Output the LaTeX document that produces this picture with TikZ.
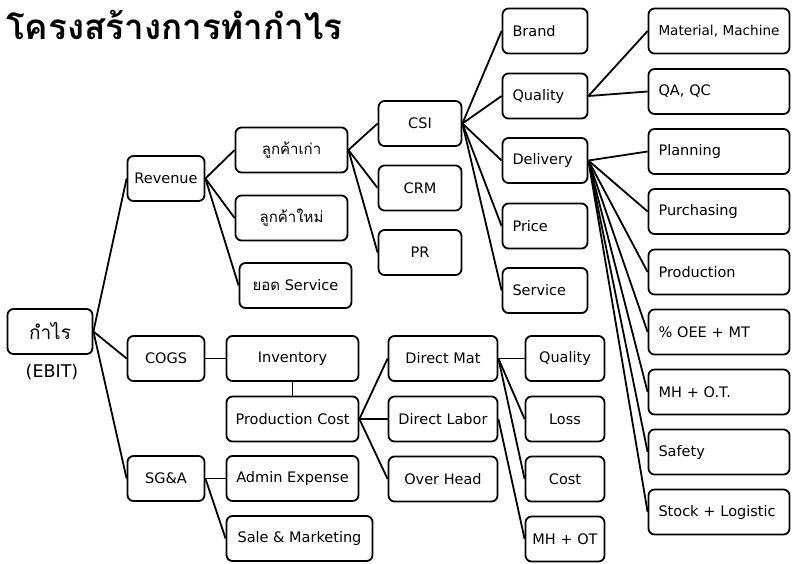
\documentclass[tikz,border=0pt]{standalone}
\usepackage{fontspec}
\setmainfont{DejaVu Sans}
\newfontfamily\thai[Script=Thai]{Loma}
\begin{document}
\begin{tikzpicture}[x=1pt,y=-1pt,
  box/.style={draw=black, line width=1.8pt, rounded corners=6pt, minimum height=45pt, inner sep=0pt, font=\fontsize{14.5}{16}\selectfont},
  lbox/.style={box, align=left, text width=#1},
  thaitext/.style={font=\thai\fontsize{15}{17}\selectfont},
  link/.style={line width=1.8pt}]
\useasboundingbox (0,0) rectangle (792,563);
\node[anchor=west, inner sep=0pt, font=\thai\bfseries\fontsize{35}{38}\selectfont] (title) at (6,25) {โครงสร้างการทำกำไร};
% level 0
\node[box, minimum width=85pt, font=\thai\fontsize{19}{21}\selectfont] (profit) at (50,331.5) {กำไร};
\node[font=\fontsize{17.5}{19}\selectfont] (ebit) at (52,372) {(EBIT)};
% level 1
\node[box, minimum width=77pt] (revenue) at (166,178.5) {Revenue};
\node[box, minimum width=77pt] (cogs) at (166,358.5) {COGS};
\node[box, minimum width=77pt] (sga) at (166,478.5) {SG\&A};
% level 2
\node[box, minimum width=112pt, thaitext] (old) at (291.5,150) {ลูกค้าเก่า};
\node[box, minimum width=112pt, thaitext] (new) at (291.5,218) {ลูกค้าใหม่};
\node[box, minimum width=112pt] (svc) at (295.5,285.5) {{\thai\fontsize{15}{17}\selectfont ยอด} Service};
\node[box, minimum width=132pt] (inv) at (292.5,358.5) {Inventory};
\node[box, minimum width=132pt] (pcost) at (292.5,419) {Production Cost};
\node[box, minimum width=132pt] (admin) at (292.5,478.5) {Admin Expense};
\node[box, minimum width=146pt] (sale) at (299.5,538.5) {Sale \& Marketing};
% level 3
\node[box, minimum width=83pt] (csi) at (420,123.5) {CSI};
\node[box, minimum width=83pt] (crm) at (420,188) {CRM};
\node[box, minimum width=83pt] (pr) at (420,252.5) {PR};
\node[box, minimum width=109pt] (dmat) at (443,358.5) {Direct Mat};
\node[box, minimum width=109pt] (dlab) at (443,419) {Direct Labor};
\node[box, minimum width=109pt] (ohead) at (443,479) {Over Head};
% level 4
\node[lbox=65pt, minimum width=85pt, inner xsep=10pt] (brand) at (545,31) {Brand};
\node[lbox=65pt, minimum width=85pt, inner xsep=10pt] (quality) at (545,96) {Quality};
\node[lbox=65pt, minimum width=85pt, inner xsep=10pt] (delivery) at (545,160.5) {Delivery};
\node[lbox=65pt, minimum width=85pt, inner xsep=10pt] (price) at (545,226) {Price};
\node[lbox=65pt, minimum width=85pt, inner xsep=10pt] (service) at (545,290.5) {Service};
\node[box, minimum width=79pt] (q2) at (565,358.5) {Quality};
\node[box, minimum width=79pt] (loss) at (565,419) {Loss};
\node[box, minimum width=79pt] (cost) at (565,479) {Cost};
\node[box, minimum width=79pt] (mhot2) at (565,539) {MH + OT};
% level 5
\node[lbox=121pt, minimum width=141pt, inner xsep=10pt, font=\fontsize{13.6}{16}\selectfont] (mm) at (719,31) {\mbox{Material, Machine}};
\node[lbox=121pt, minimum width=141pt, inner xsep=10pt] (qa) at (719,91.5) {QA, QC};
\node[lbox=121pt, minimum width=141pt, inner xsep=10pt] (plan) at (719,151.5) {Planning};
\node[lbox=121pt, minimum width=141pt, inner xsep=10pt] (purch) at (719,211.5) {Purchasing};
\node[lbox=121pt, minimum width=141pt, inner xsep=10pt] (prod) at (719,272) {Production};
\node[lbox=121pt, minimum width=141pt, inner xsep=10pt] (oee) at (719,332) {\% OEE + MT};
\node[lbox=121pt, minimum width=141pt, inner xsep=10pt] (mhot) at (719,392) {MH + O.T.};
\node[lbox=121pt, minimum width=141pt, inner xsep=10pt] (safety) at (719,452) {Safety};
\node[lbox=121pt, minimum width=141pt, inner xsep=10pt] (stock) at (719,512) {Stock + Logistic};
% connectors
\foreach \a/\b in {profit/revenue, profit/cogs, profit/sga,
  revenue/old, revenue/new, revenue/svc,
  old/csi, old/crm, old/pr,
  csi/brand, csi/quality, csi/delivery, csi/price, csi/service,
  quality/mm, quality/qa,
  delivery/plan, delivery/purch, delivery/prod, delivery/oee, delivery/mhot, delivery/safety, delivery/stock,
  cogs/inv, pcost/dmat, pcost/dlab, pcost/ohead,
  dmat/q2, dmat/loss, dmat/cost, dlab/mhot2,
  sga/admin, sga/sale}
  \draw[link] (\a.east) -- (\b.west);
\draw[link] (inv.south) -- (pcost.north);
\end{tikzpicture}
\end{document}
